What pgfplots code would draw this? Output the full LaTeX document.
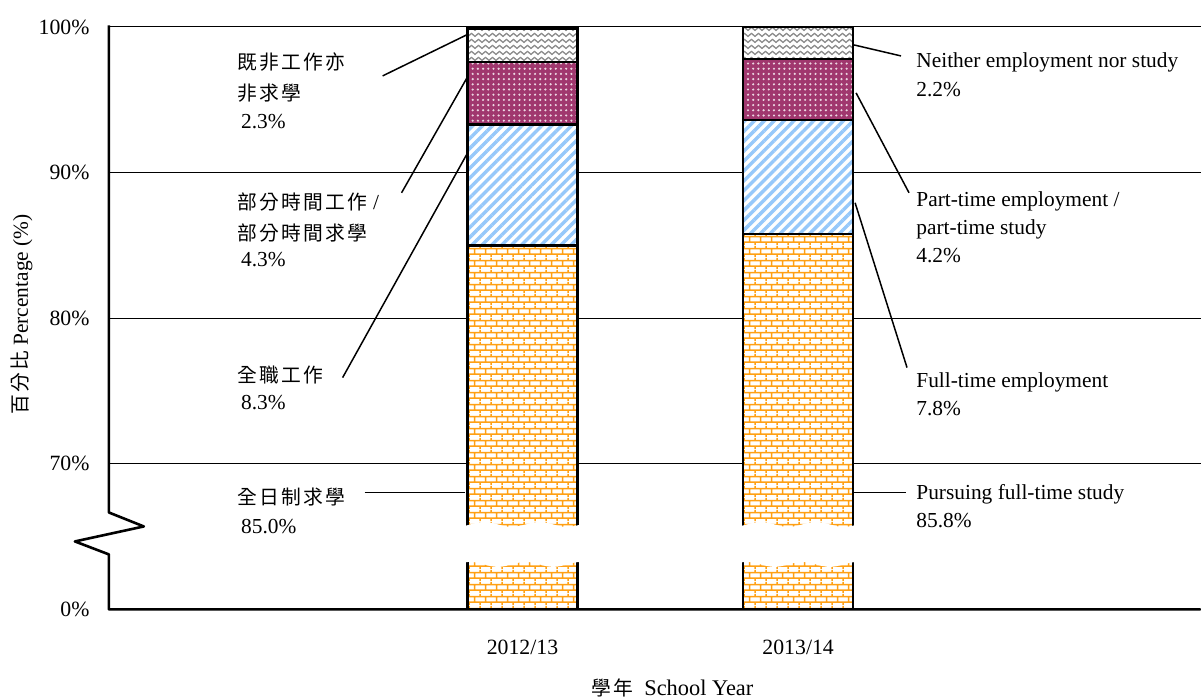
\documentclass[border=0pt]{standalone}
\usepackage{fontspec}
\setmainfont{Liberation Serif}
\newfontfamily\cjkfont[LetterSpace=12]{Noto Sans CJK TC}
\usepackage{pgfplots}
\pgfplotsset{compat=1.18}
\usetikzlibrary{patterns,patterns.meta}
\newcommand\cj[1]{{\fontsize{9.9}{13}\selectfont\cjkfont #1}}

\definecolor{brick}{RGB}{255,160,20}
\definecolor{stripe}{RGB}{150,200,250}
\definecolor{plum}{RGB}{160,55,110}
\definecolor{zig}{RGB}{140,140,140}

\pgfdeclarepattern{
  name=mybricks,
  type=uncolored,
  bottom left={\pgfpoint{0pt}{0pt}},
  top right={\pgfpoint{5.5pt}{5.8pt}},
  tile size={\pgfpoint{5.5pt}{5.8pt}},
  code={
    \pgfsetlinewidth{0.75pt}
    \pgfpathmoveto{\pgfpoint{0pt}{1.45pt}}\pgfpathlineto{\pgfpoint{5.5pt}{1.45pt}}
    \pgfpathmoveto{\pgfpoint{0pt}{4.35pt}}\pgfpathlineto{\pgfpoint{5.5pt}{4.35pt}}
    \pgfpathmoveto{\pgfpoint{1.375pt}{1.45pt}}\pgfpathlineto{\pgfpoint{1.375pt}{4.35pt}}
    \pgfpathmoveto{\pgfpoint{4.125pt}{4.35pt}}\pgfpathlineto{\pgfpoint{4.125pt}{5.8pt}}
    \pgfpathmoveto{\pgfpoint{4.125pt}{0pt}}\pgfpathlineto{\pgfpoint{4.125pt}{1.45pt}}
    \pgfusepath{stroke}
  }
}
\pgfdeclarepattern{
  name=myzig,
  type=uncolored,
  bottom left={\pgfpoint{0pt}{0pt}},
  top right={\pgfpoint{3.5pt}{3pt}},
  tile size={\pgfpoint{3.5pt}{3pt}},
  code={
    \pgfsetlinewidth{0.65pt}
    \pgfpathmoveto{\pgfpoint{-0.2pt}{0.65pt}}
    \pgfpathlineto{\pgfpoint{1.75pt}{2.3pt}}
    \pgfpathlineto{\pgfpoint{3.7pt}{0.65pt}}
    \pgfusepath{stroke}
  }
}

\begin{document}
\begin{tikzpicture}[font=\fontsize{10.7}{13}\selectfont]
\begin{scope}[x=0.5pt,y=-0.5pt,xshift=-54.5pt,yshift=305pt]
\useasboundingbox (0,0) rectangle (1202,698);
\end{scope}
\begin{axis}[
  at={(0,0)}, anchor=south west,
  scale only axis, width=546.5pt, height=292.23pt,
  xmin=-1.5, xmax=2.4601, ymin=60, ymax=100.1,
  ybar stacked, bar width=55pt,
  axis line style={draw=none},
  xtick={0,1}, xticklabels={2012/13,2013/14},
  ytick={60,70,80,90,100}, yticklabels={0\%,70\%,80\%,90\%,100\%},
  major tick length=0pt,
  tick style={draw=none},
  ymajorgrids, grid style={black, line width=0.5pt},
  tick label style={font=\fontsize{10.9}{13}\selectfont},
  xticklabel style={anchor=base, yshift=-22.5pt},
  yticklabel style={anchor=east, inner sep=0pt, xshift=-9.5pt},
]
% Pursuing full-time study
\addplot[draw=black, line width=1.2pt, preaction={fill=white},
  preaction={pattern=mybricks, pattern color=brick}]
  coordinates {(0,85.0) (1,85.8)};
% Full-time employment
\addplot[draw=black, line width=1.2pt, preaction={fill=white},
  preaction={pattern={Lines[angle=45,distance=3.5pt,line width=1.7pt]}, pattern color=stripe}]
  coordinates {(0,8.3) (1,7.8)};
% Part-time employment / part-time study
\addplot[draw=black, line width=1.2pt, preaction={fill=plum},
  preaction={pattern={Dots[distance=2.6pt,radius=0.6pt]}, pattern color=white!80!plum}]
  coordinates {(0,4.3) (1,4.2)};
% Neither employment nor study
\addplot[draw=black, line width=1.2pt, preaction={fill=white},
  preaction={pattern=myzig, pattern color=zig}]
  coordinates {(0,2.3) (1,2.2)};
\end{axis}
\begin{scope}[x=0.5pt,y=-0.5pt,xshift=-54.5pt,yshift=305pt]
% axis break
\fill[white] plot[domain=455:870,samples=90] (\x,{525+2.5*sin(6.5*\x)})
  -- plot[domain=870:455,samples=90] (\x,{565+2.5*sin(6.5*\x+90)}) -- cycle;
\draw[line width=1.3pt, line join=round] (109,25.5) -- (109,513) -- (144,527) -- (75,542) -- (109,555) -- (109,610) -- (1202,610);
% leader lines
\begin{scope}[line width=0.75pt]
\draw (383,76) -- (467,35);
\draw (402,193) -- (468,77);
\draw (343,378) -- (467,155);
\draw (365,493) -- (465,493);
\draw (855,45) -- (902,56);
\draw (857,93) -- (910,193);
\draw (856,203) -- (908,368);
\draw (855,493) -- (907,493);
\end{scope}
% left labels
\begin{scope}[every node/.style={anchor=base west, inner sep=0pt}]
\node at (237,70) {\cj{既非工作亦}};
\node at (237,101) {\cj{非求學}};
\node at (241,129) {2.3\%};
\node at (237,210) {\cj{部分時間工作} /};
\node at (237,241) {\cj{部分時間求學}};
\node at (241,267) {4.3\%};
\node at (237,383) {\cj{全職工作}};
\node at (241,410) {8.3\%};
\node at (237,505) {\cj{全日制求學}};
\node at (241,534) {85.0\%};
% right labels
\node at (917,68) {Neither employment nor study};
\node at (917,97) {2.2\%};
\node at (917,207) {Part-time employment /};
\node at (917,235) {part-time study};
\node at (917,263) {4.2\%};
\node at (917,388) {Full-time employment};
\node at (917,416) {7.8\%};
\node at (917,500) {Pursuing full-time study};
\node at (917,528) {85.8\%};
\end{scope}
% axis titles
\node[rotate=90, inner sep=0pt] at (22,315) {\cj{百分比} Percentage (\%)};
\node[anchor=base, inner sep=0pt, font=\fontsize{11.2}{13}\selectfont] at (673,696) {\cj{學年}\ \ School Year};
\end{scope}
\end{tikzpicture}
\end{document}
